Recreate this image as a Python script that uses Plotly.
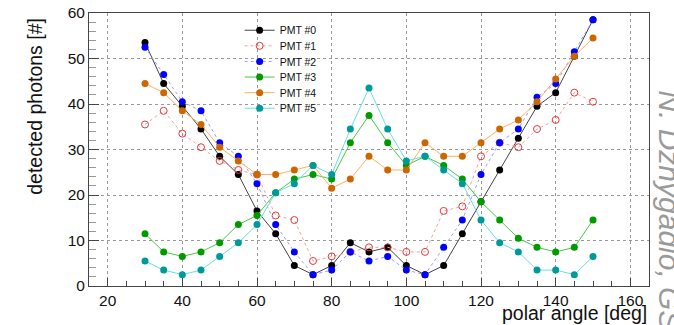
import plotly.graph_objects as go

angles = [30, 35, 40, 45, 50, 55, 60, 65, 70, 75, 80, 85, 90, 95, 100, 105, 110, 115, 120, 125, 130, 135, 140, 145, 150]

pmt0 = [53.5, 44.5, 39.5, 34.5, 28.5, 24.5, 16.5, 11.5, 4.5, 2.5, 4.5, 9.5, 7.5, 8.5, 4.5, 2.5, 4.5, 11.5, 18.5, 25.5, 32.5, 39.5, 42.5, 50.5, 58.5]
pmt1 = [35.5, 38.5, 33.5, 30.5, 27.5, 25.5, 24.5, 15.5, 14.5, 5.5, 6.5, 7.5, 8.5, 8.5, 7.5, 7.5, 16.5, 17.5, 28.5, 31.5, 30.5, 34.5, 36.5, 42.5, 40.5]
pmt2 = [52.5, 46.5, 40.5, 38.5, 31.5, 28.5, 22.5, 13.5, 7.5, 2.5, 3.5, 7.5, 5.5, 6.5, 3.5, 2.5, 8.5, 14.5, 24.5, 31.5, 34.5, 41.5, 44.5, 51.5, 58.5]
pmt3 = [11.5, 7.5, 6.5, 7.5, 9.5, 13.5, 15.5, 20.5, 23.5, 24.5, 23.5, 31.5, 37.5, 31.5, 26.5, 28.5, 26.5, 23.5, 18.5, 14.5, 10.5, 8.5, 7.5, 8.5, 14.5]
pmt4 = [44.5, 42.5, 38.5, 35.5, 30.5, 27.5, 24.5, 24.5, 25.5, 26.5, 21.5, 23.5, 28.5, 25.5, 25.5, 31.5, 28.5, 28.5, 31.5, 34.5, 36.5, 40.5, 45.5, 50.5, 54.5]
pmt5 = [5.5, 3.5, 2.5, 3.5, 6.5, 9.5, 13.5, 20.5, 22.5, 26.5, 24.5, 34.5, 43.5, 34.5, 27.5, 28.5, 25.5, 22.5, 14.5, 9.5, 7.5, 3.5, 3.5, 2.5, 6.5]

names = ["PMT #0", "PMT #1", "PMT #2", "PMT #3", "PMT #4", "PMT #5"]
series = [pmt0, pmt1, pmt2, pmt3, pmt4, pmt5]
marker_colors = ["#000000", "#e03c3c", "#0000ff", "#009a00", "#cc6600", "#009999"]
line_colors = ["#444444", "#ff9a9a", "#9a9aff", "#44cc44", "#ffb060", "#66e0e0"]
dashes = ["solid", "dot", "dot", "solid", "solid", "solid"]
symbols = ["circle", "circle-open", "circle", "circle", "circle", "circle"]

FONT = "Liberation Sans, Arial, Helvetica, sans-serif"

fig = go.Figure()
for name, vals, mc, lc, ds, sym in zip(names, series, marker_colors, line_colors, dashes, symbols):
    fig.add_trace(go.Scatter(
        x=angles, y=vals, name=name, mode="lines+markers",
        line=dict(color=lc, width=1, dash=ds),
        marker=dict(color=mc, size=7, symbol=sym,
                    line=dict(width=1 if sym == "circle-open" else 0, color=mc)),
    ))

axis_common = dict(
    showline=True, linecolor="#444444", linewidth=1, mirror=True,
    showgrid=True, gridcolor="#999999", griddash="dot", gridwidth=1,
    zeroline=False, ticks="inside", tickcolor="#444444", automargin=False,
    tickfont=dict(family=FONT, size=15.5, color="#111111"),
)

fig.update_layout(
    width=674, height=325,
    margin=dict(l=89, r=25, t=13, b=39),
    paper_bgcolor="white", plot_bgcolor="white",
    font=dict(family=FONT, color="#111111"),
    xaxis=dict(range=[15, 165], tickvals=[20, 40, 60, 80, 100, 120, 140, 160], ticklen=8,
               minor=dict(dtick=5, tick0=0, ticks="inside", ticklen=5, tickcolor="#444444", showgrid=False),
               **axis_common),
    yaxis=dict(range=[0, 60], tickvals=[0, 10, 20, 30, 40, 50, 60], ticklen=10,
               minor=dict(dtick=2, tick0=0, ticks="inside", ticklen=7, tickcolor="#999999", showgrid=False),
               **axis_common),
    legend=dict(x=0.269, y=0.99, xanchor="left", yanchor="top", bgcolor="rgba(0,0,0,0)",
                font=dict(family=FONT, size=10.5, color="#111111"), tracegroupgap=0),
    annotations=[
        dict(text="detected photons [#]", xref="paper", yref="paper", x=-0.097, y=0.659,
             xanchor="center", yanchor="middle", textangle=-90, showarrow=False,
             font=dict(family=FONT, size=19.5, color="#111111")),
        dict(text="polar angle [deg]", xref="paper", yref="paper", x=1.0, y=-0.098,
             xanchor="right", yanchor="middle", showarrow=False,
             font=dict(family=FONT, size=19.5, color="#111111")),
        dict(text="<i>N. Dzhygadlo, GSI</i>", xref="paper", yref="paper", x=1.037, y=0.725,
             xanchor="center", yanchor="top", textangle=90, showarrow=False,
             font=dict(family=FONT, size=30, color="#9a9a9a")),
    ],
)

post = """
document.body.style.margin='0';
document.body.style.padding='0';
var items = document.querySelectorAll('.legend .traces');
if (items.length) {
  var y0 = parseFloat(items[0].getAttribute('transform').match(/translate\\([-\\d.]+,\\s*([-\\d.]+)\\)/)[1]);
  items.forEach(function(el, i){
    var m = /translate\\(([-\\d.]+),\\s*([-\\d.]+)\\)/.exec(el.getAttribute('transform') || '');
    if (m) {
      el.setAttribute('transform', 'translate(' + parseFloat(m[1]) + ',' + (y0 + i * 15.6) + ')');
    }
  });
}
"""

fig.write_html("out.html", post_script=post, config={"displayModeBar": False})
